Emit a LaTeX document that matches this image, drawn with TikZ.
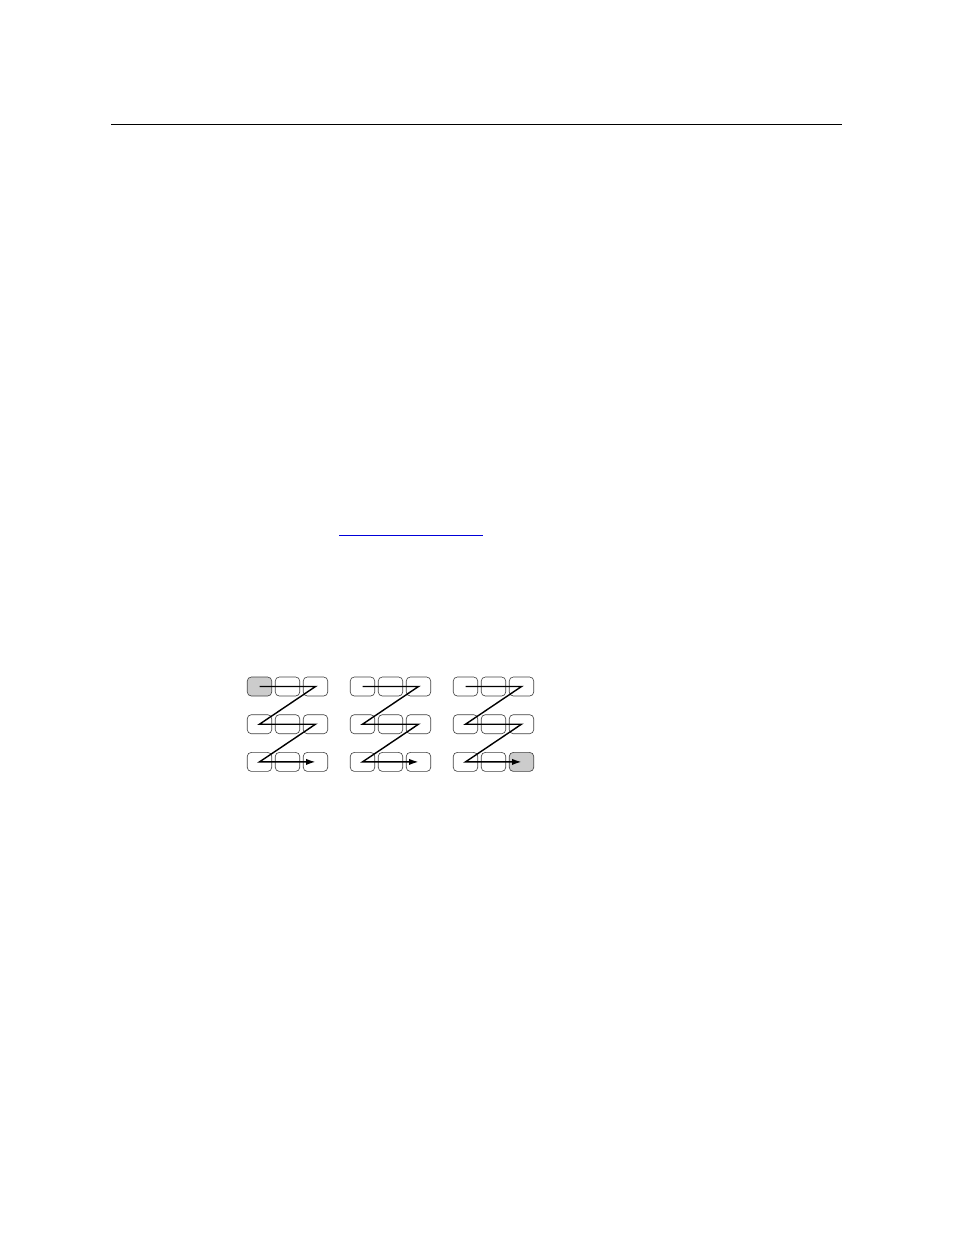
\documentclass[tikz,border=0pt]{standalone}
\usetikzlibrary{arrows.meta}
\begin{document}
\begin{tikzpicture}[x=0.6415pt,y=-0.6415pt,>={Latex[length=6pt,width=4pt]}]
    \tikzset{
        cell/.style={draw=black!75,line width=0.4pt,rounded corners=2.6pt,
            minimum width=15.7pt,minimum height=12.2pt,inner sep=0pt},
        shaded/.style={cell,fill=black!20},
        zig/.style={line width=0.9pt,line join=miter}
    }
    \useasboundingbox (0,0) rectangle (954,1235);
    % page rule and the short blue line
    \coordinate (ruleL) at (111,124.5);
    \coordinate (ruleR) at (842,124.5);
    \draw[line width=0.8pt] (ruleL)--(ruleR);
    \coordinate (linkL) at (339,535.5);
    \coordinate (linkR) at (482.5,535.5);
    \draw[blue!85!black,line width=0.7pt] (linkL)--(linkR);
    % three 3x3 grids
    \foreach \g in {0,1,2}{
        \foreach \r in {0,1,2}{
            \foreach \c in {0,1,2}{
                \ifnum\g\r\c=0 \def\look{shaded}\else
                \ifnum\g\r\c=222 \def\look{shaded}\else\def\look{cell}\fi\fi
                \node[\look] (b\g\r\c) at (259.5+103*\g+28*\c,686.5+37.7*\r) {};
            }
        }
    }
    % scan order
    \foreach \g in {0,1,2}
        \draw[zig,->] (b\g00.center)--(b\g02.center)--(b\g10.center)--(b\g12.center)
            --(b\g20.center)--(b\g22.center);
\end{tikzpicture}
\end{document}
